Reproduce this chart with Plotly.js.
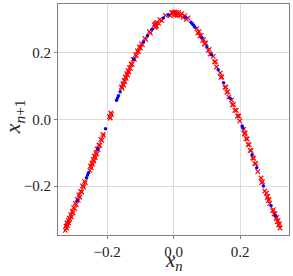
<!DOCTYPE html>
<html><head><meta charset="utf-8">
<script src="https://cdn.plot.ly/plotly-3.0.1.min.js"></script>
<style>html,body{margin:0;padding:0;background:#fff;}#c{width:293px;height:276px;}</style>
</head><body><div id="c"></div>
<script>
var redX = [-0.326,-0.324,-0.322,-0.321,-0.319,-0.317,-0.316,-0.314,-0.312,-0.310,-0.308,-0.305,-0.303,-0.301,-0.298,-0.296,-0.293,-0.290,-0.287,-0.285,-0.283,-0.280,-0.277,-0.274,-0.271,-0.268,-0.266,
-0.252,-0.250,-0.248,-0.246,-0.244,-0.242,-0.240,-0.238,-0.236,-0.234,-0.232,-0.230,-0.227,-0.225,-0.222,-0.219,-0.216,-0.213,-0.211,
-0.193,-0.191,-0.189,-0.187,
-0.157,-0.155,-0.153,-0.151,-0.149,-0.147,-0.145,-0.143,-0.141,-0.139,-0.137,-0.135,-0.133,-0.130,-0.128,-0.125,-0.122,-0.118,-0.115,-0.112,-0.109,-0.106,-0.103,-0.100,-0.097,-0.094,-0.087,-0.084,-0.073,-0.070,-0.058,-0.056,-0.055,-0.054,-0.053,-0.052,-0.050,-0.045,-0.042,-0.036,-0.025,-0.010,-0.006,
-0.003,0.000,0.003,0.006,0.009,0.012,0.015,0.019,0.024,0.028,0.033,0.038,0.043,
0.070,0.073,0.076,0.079,0.083,0.087,0.090,0.093,0.096,0.104,0.107,0.110,0.119,0.123,0.126,0.129,
0.140,0.142,0.145,0.154,0.157,0.160,0.163,0.166,0.174,0.177,0.180,0.184,0.188,0.192,0.196,0.199,
0.211,0.213,0.215,0.218,0.221,0.224,0.227,0.230,0.233,0.238,0.241,0.244,0.247,0.253,
0.263,0.265,0.267,0.274,0.279,0.281,0.283,0.285,0.287,0.289,
0.298,0.300,0.302,0.305,0.308,0.310,0.312,0.314,0.316,0.318,0.320];
var redY = [-0.333,-0.320,-0.326,-0.311,-0.318,-0.303,-0.311,-0.297,-0.300,-0.286,-0.293,-0.276,-0.281,-0.265,-0.268,-0.252,-0.256,-0.240,-0.243,-0.227,-0.233,-0.216,-0.218,-0.200,-0.203,-0.186,-0.190,
-0.154,-0.140,-0.145,-0.131,-0.135,-0.120,-0.125,-0.110,-0.115,-0.100,-0.104,-0.089,-0.091,-0.077,-0.078,-0.060,-0.063,-0.045,-0.049,
0.008,0.004,0.019,0.015,
0.097,0.093,0.107,0.103,0.117,0.113,0.127,0.123,0.137,0.133,0.146,0.142,0.155,0.153,0.166,0.165,0.180,0.180,0.194,0.191,0.205,0.203,0.217,0.214,0.227,0.224,0.243,0.240,0.263,0.259,0.283,0.276,0.286,0.278,0.288,0.280,0.291,0.288,0.299,0.296,0.312,0.311,0.320,
0.321,0.314,0.322,0.313,0.321,0.312,0.320,0.311,0.317,0.306,0.311,0.300,0.304,
0.272,0.259,0.263,0.250,0.252,0.237,0.240,0.226,0.229,0.207,0.210,0.196,0.189,0.172,0.173,0.157,
0.139,0.126,0.127,0.096,0.097,0.081,0.083,0.067,0.058,0.043,0.045,0.027,0.027,0.010,0.010,-0.005,
-0.030,-0.044,-0.041,-0.058,-0.059,-0.076,-0.076,-0.093,-0.094,-0.116,-0.117,-0.133,-0.133,-0.157,
-0.176,-0.190,-0.187,-0.215,-0.221,-0.234,-0.231,-0.244,-0.240,-0.253,
-0.274,-0.271,-0.284,-0.283,-0.298,-0.294,-0.307,-0.304,-0.317,-0.313,-0.326];
var blueX = [-0.290,-0.262,-0.259,-0.256,-0.228,-0.205,-0.172,-0.169,-0.166,-0.161,-0.120,-0.091,-0.079,-0.065,-0.031,-0.016,0.035,0.052,0.056,0.060,0.064,0.085,0.100,0.114,0.134,0.150,0.170,0.206,0.208,0.236,0.250,0.270,0.293,0.306];
var blueY = [-0.244,-0.175,-0.167,-0.160,-0.089,-0.028,0.057,0.064,0.071,0.083,0.180,0.232,0.251,0.270,0.304,0.313,0.306,0.291,0.287,0.282,0.276,0.245,0.218,0.194,0.149,0.110,0.063,-0.020,-0.026,-0.106,-0.145,-0.200,-0.259,-0.289];
var tickVals = [-0.2, 0.0, 0.2];
var tickText = ['\u22120.2', '0.0', '0.2'];

var data = [
  {x: redX, y: redY, type: 'scatter', mode: 'markers',
   marker: {symbol: 'x-thin', size: 4.5, color: '#ff0000', line: {color: '#ff0000', width: 1.1}}},
  {x: blueX, y: blueY, type: 'scatter', mode: 'markers',
   marker: {symbol: 'circle', size: 3.5, color: '#0000ff'}}
];
var layout = {
  width: 293, height: 276,
  margin: {l: 58, r: 4, t: 4, b: 41},
  paper_bgcolor: '#fff', plot_bgcolor: '#fff',
  font: {family: 'Liberation Serif', color: '#222'},
  showlegend: false,
  xaxis: {range: [-0.348, 0.347],
    showline: true, mirror: true, linecolor: '#7f7f7f', linewidth: 1,
    showgrid: true, gridcolor: '#dcdcdc', gridwidth: 1, zeroline: false,
    ticks: 'outside', ticklen: 3, tickcolor: '#7f7f7f', tickwidth: 1,
    tickmode: 'array', tickvals: tickVals, ticktext: tickText,
    tickfont: {family: 'Liberation Serif', size: 15, color: '#222'}},
  yaxis: {range: [-0.347, 0.346],
    showline: true, mirror: true, linecolor: '#7f7f7f', linewidth: 1,
    showgrid: true, gridcolor: '#dcdcdc', gridwidth: 1, zeroline: false,
    ticks: 'outside', ticklen: 3, tickcolor: '#7f7f7f', tickwidth: 1,
    tickmode: 'array', tickvals: tickVals, ticktext: tickText,
    tickfont: {family: 'Liberation Serif', size: 15, color: '#222'}},
  annotations: [
    {text: '<i>x</i><sub><i>n</i></sub>', xref: 'paper', yref: 'paper', x: 0.5, y: -0.114,
     xanchor: 'center', yanchor: 'middle', showarrow: false, font: {family: 'Liberation Serif', size: 21, color: '#222'}},
    {text: '<i>x</i><sub><i>n</i>+1</sub>', xref: 'paper', yref: 'paper', x: -0.19, y: 0.51,
     xanchor: 'center', yanchor: 'middle', textangle: -90, showarrow: false, font: {family: 'Liberation Serif', size: 22, color: '#222'}}
  ]
};
Plotly.newPlot('c', data, layout, {displayModeBar: false, staticPlot: true});
</script></body></html>
